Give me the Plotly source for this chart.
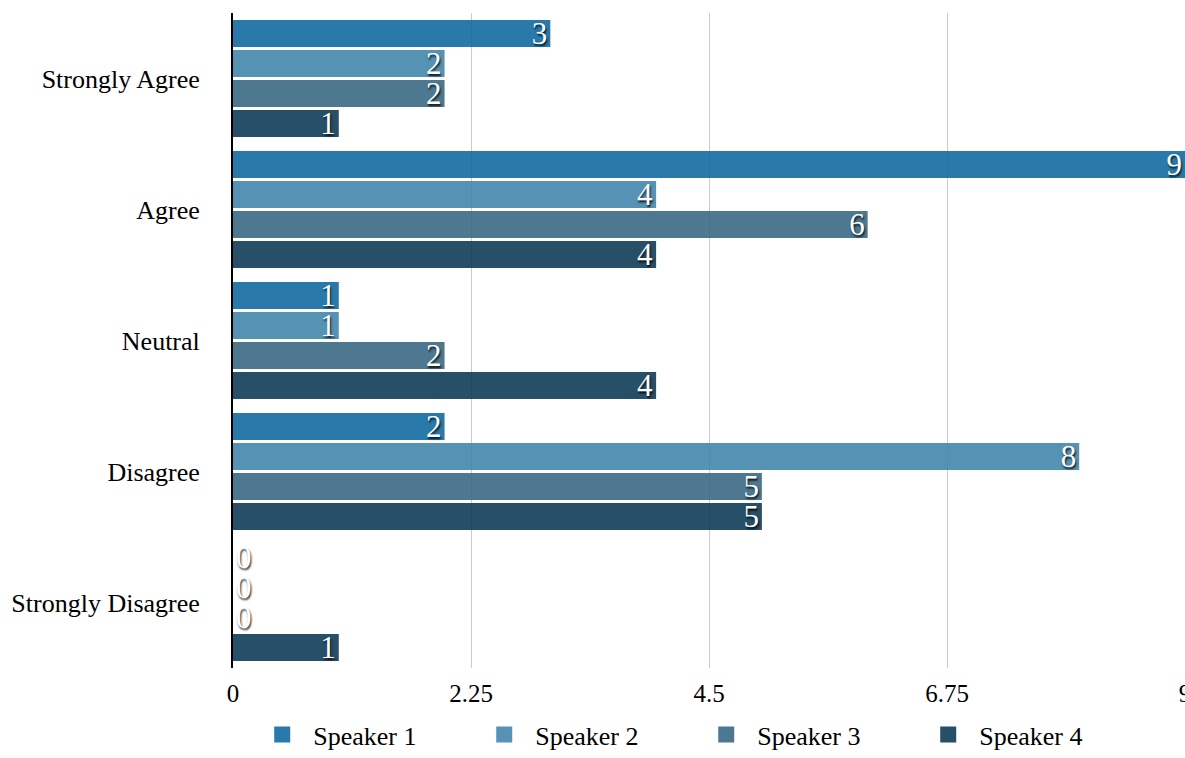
import plotly.graph_objects as go

categories = ["Strongly Agree", "Agree", "Neutral", "Disagree", "Strongly Disagree"]
speakers = ["Speaker 1", "Speaker 2", "Speaker 3", "Speaker 4"]
speaker1 = [3, 9, 1, 2, 0]
speaker2 = [2, 4, 1, 8, 0]
speaker3 = [2, 6, 2, 5, 0]
speaker4 = [1, 4, 4, 5, 1]
series = [speaker1, speaker2, speaker3, speaker4]
colors = ["rgba(18,108,162,0.9)", "rgba(67,134,171,0.9)",
          "rgba(58,105,131,0.9)", "rgba(15,60,87,0.9)"]
x_ticks = [0, 2.25, 4.5, 6.75, 9]
x_tick_text = ["0", "2.25", "4.5", "6.75", "9"]

FONT = "Liberation Serif, Times New Roman, serif"

fig = go.Figure()
for name, vals, col in zip(speakers, series, colors):
    fig.add_trace(go.Bar(
        y=categories, x=vals, name=name, orientation="h",
        marker=dict(color=col, line=dict(width=0)),
        text=[str(v) for v in vals],
        textposition=["outside" if v == 0 else "inside" for v in vals],
        insidetextanchor="end",
        textangle=0,
        constraintext="none",
        cliponaxis=False,
        textfont=dict(family=FONT, size=31, color="white",
                      shadow="1px 2px 2px rgba(0,0,0,0.85)"),
        showlegend=False,
    ))
    fig.add_trace(go.Scatter(
        x=[None], y=[None], mode="markers", name=name,
        marker=dict(symbol="square", size=22, color=col),
        showlegend=True,
    ))

fig.update_layout(
    width=1185, height=758,
    margin=dict(l=233, r=0, t=13, b=90, autoexpand=False),
    paper_bgcolor="white", plot_bgcolor="white",
    barmode="group", bargap=0.085, bargroupgap=0.1,
    font=dict(family=FONT, size=26, color="black"),
    legend=dict(orientation="h", xref="container", x=0.212, xanchor="left",
                yref="container", y=0.0, yanchor="bottom",
                itemwidth=52, entrywidth=155, font=dict(family=FONT, size=26)),
    xaxis=dict(range=[0, 9], tickvals=x_ticks, ticktext=x_tick_text,
               showgrid=True, gridcolor="#cccccc", gridwidth=1,
               zeroline=False, showline=False, automargin=False,
               ticklabeloverflow="allow", ticklabelstandoff=8,
               tickfont=dict(family=FONT, size=25)),
    yaxis=dict(autorange="reversed", showgrid=False, showline=True,
               linecolor="black", linewidth=2, ticks="", automargin=False,
               ticklabelstandoff=26,
               tickfont=dict(family=FONT, size=26)),
)

fig.write_html("out.html")
